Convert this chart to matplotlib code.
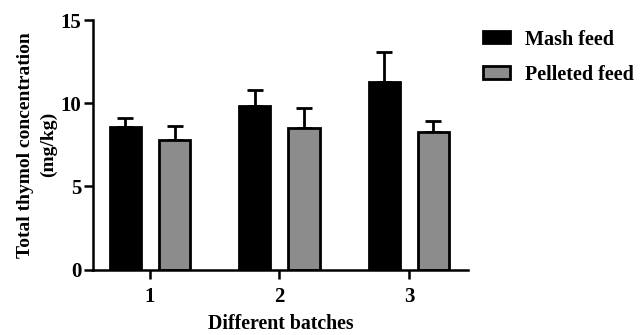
import matplotlib
matplotlib.use("Agg")
import matplotlib.pyplot as plt
import numpy as np
from matplotlib.patches import Patch

plt.rcParams['font.family'] = ['Liberation Serif', 'DejaVu Serif']
plt.rcParams['font.weight'] = 'bold'

batches = ["1", "2", "3"]
mash = [8.57, 9.85, 11.29]
mash_err = [0.52, 0.94, 1.81]
pellet = [7.79, 8.49, 8.29]
pellet_err = [0.84, 1.20, 0.64]
series_names = ["Mash feed", "Pelleted feed"]

fig = plt.figure(figsize=(6.41, 3.35), dpi=100)
ax = fig.add_axes([0.145, 0.1955, 0.585, 0.7445])

x = np.arange(1, len(batches) + 1)
w = 0.24
off = 0.19
lw = 2.0
ax.bar(x - off, mash, w, color='black', edgecolor='black', linewidth=lw, zorder=2)
ax.bar(x + off, pellet, w, color='#8c8c8c', edgecolor='black', linewidth=lw, zorder=2)
ax.errorbar(x - off, mash, yerr=[np.zeros(3), mash_err], fmt='none', ecolor='black',
            elinewidth=lw, capsize=5.5, capthick=lw, zorder=1)
ax.errorbar(x + off, pellet, yerr=[np.zeros(3), pellet_err], fmt='none', ecolor='black',
            elinewidth=lw, capsize=5.5, capthick=lw, zorder=1)

ax.set_xlim(0.56, 3.456)
ax.set_ylim(0, 15)
ax.set_yticks([0, 5, 10, 15])
ax.set_xticks(x)
ax.set_xticklabels(batches)
for s in ['top', 'right']:
    ax.spines[s].set_visible(False)
for s in ['left', 'bottom']:
    ax.spines[s].set_linewidth(1.8)
ax.tick_params(axis='both', width=1.8, length=6.5, labelsize=15)
ax.tick_params(axis='x', pad=6)
ax.tick_params(axis='y', pad=2)
for lab in ax.get_xticklabels() + ax.get_yticklabels():
    lab.set_fontweight('bold')

ax.set_ylabel("Total thymol concentration\n(mg/kg)", fontsize=14.0, fontweight='bold',
              linespacing=1.45, labelpad=2.5)
ax.set_xlabel("Different batches", fontsize=14.3, fontweight='bold', labelpad=5)

handles = [Patch(facecolor='black', edgecolor='black', linewidth=lw),
           Patch(facecolor='#8c8c8c', edgecolor='black', linewidth=lw)]
leg = fig.legend(handles, series_names, loc='upper left', bbox_to_anchor=(0.726, 0.966),
                 frameon=False, prop={'size': 14.5, 'weight': 'bold'},
                 handlelength=1.33, handleheight=0.55, labelspacing=0.75, handletextpad=0.75)

fig.savefig("out.png", dpi=100)
